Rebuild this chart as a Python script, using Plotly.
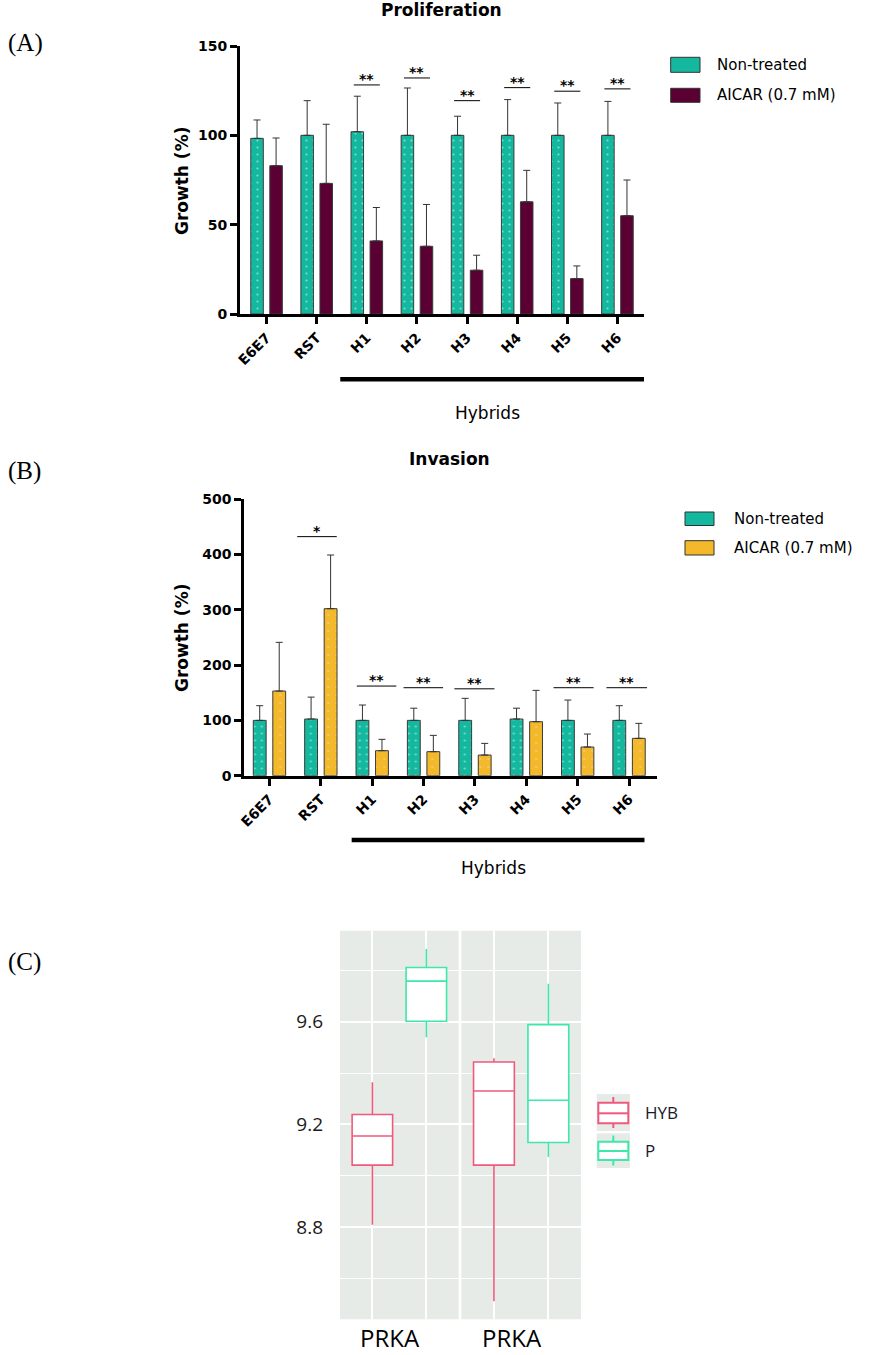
import plotly.graph_objects as go

# ---------------- data ----------------
categories = ["E6E7", "RST", "H1", "H2", "H3", "H4", "H5", "H6"]

prolif_nt = [98.3, 100, 102, 100, 100, 100, 100, 100]
prolif_nt_err = [10.3, 19.4, 19.9, 26.5, 10.7, 20.0, 18.1, 19.0]
prolif_aicar = [83.0, 73.1, 40.9, 37.9, 24.5, 62.8, 19.8, 55.0]
prolif_aicar_err = [15.5, 33.1, 18.7, 23.4, 8.4, 17.6, 7.1, 20.0]

inv_nt = [100, 102.4, 100, 100, 100, 102.4, 100, 100]
inv_nt_err = [26.5, 39.6, 27.7, 22.0, 39.8, 19.6, 36.7, 26.5]
inv_aicar = [153.0, 301.8, 45.2, 43.4, 37.3, 97.6, 51.8, 67.5]
inv_aicar_err = [88.0, 97.0, 20.5, 29.5, 21.1, 56.6, 23.5, 27.1]

prolif_sig_idx = [2, 3, 4, 5, 6, 7]
prolif_sig_y = [128.2, 132.1, 119.4, 126.7, 124.7, 126.0]
prolif_sig_txt = ["**", "**", "**", "**", "**", "**"]

inv_sig_idx = [1, 2, 3, 4, 6, 7]
inv_sig_y = [432, 162, 159, 157, 159, 159]
inv_sig_txt = ["*", "**", "**", "**", "**", "**"]

series_names = ["Non-treated", "AICAR (0.7 mM)"]

box_groups = ["HYB", "P"]
facet_labels = ["PRKA", "PRKA"]
# [lowerfence, q1, median, q3, upperfence]
facet1_hyb = [8.810, 9.042, 9.155, 9.239, 9.364]
facet1_p = [9.539, 9.601, 9.757, 9.810, 9.882]
facet2_hyb = [8.513, 9.042, 9.330, 9.443, 9.457]
facet2_p = [9.074, 9.130, 9.294, 9.588, 9.747]
c_yticks = [8.8, 9.2, 9.6]
c_yminor = [8.6, 9.0, 9.4, 9.8]

# ---------------- layout helpers ----------------
W, H = 895, 1355
def px(x):
    return x / W
def py(y):
    return 1 - y / H

teal = "#14B89F"
maroon = "#5A0032"
orange = "#F3B92A"
pink = "#EF5A7C"
mint = "#3DE8A8"
panel_bg = "#E7EBE7"
BOLD = dict(family="DejaVu Sans", color="black", weight="bold")

fig = go.Figure()

bar_w = 0.25
half_sep = 0.19

def add_bars(vals, errs, color, xa, ya, side, pattern=None):
    marker = dict(color=color, line=dict(color="#3a3a3a", width=1))
    if pattern is not None:
        marker["pattern"] = pattern
    fig.add_trace(go.Bar(
        x=categories, y=vals, width=bar_w,
        offset=side * half_sep - bar_w / 2,
        marker=marker,
        error_y=dict(type="data", array=errs, arrayminus=[0] * len(errs),
                     symmetric=False, color="#333333", thickness=1, width=3.5),
        xaxis=xa, yaxis=ya, showlegend=False))

teal_pattern = dict(shape=".", fgcolor="#7FDCCB", bgcolor=teal, size=7,
                    solidity=0.08, fillmode="replace")
orange_pattern = dict(shape=".", fgcolor="#F5C87A", bgcolor=orange, size=8,
                      solidity=0.06, fillmode="replace")

add_bars(prolif_nt, prolif_nt_err, teal, "x", "y", -1, teal_pattern)
add_bars(prolif_aicar, prolif_aicar_err, maroon, "x", "y", 1)
add_bars(inv_nt, inv_nt_err, teal, "x2", "y2", -1, teal_pattern)
add_bars(inv_aicar, inv_aicar_err, orange, "x2", "y2", 1, orange_pattern)

# ---------------- boxes (panel C) ----------------
def add_box(stats, pos, color, xa, ya):
    lo, q1, med, q3, hi = stats
    fig.add_trace(go.Box(
        x=[pos], q1=[q1], median=[med], q3=[q3], lowerfence=[lo], upperfence=[hi],
        width=0.75, whiskerwidth=0, fillcolor="white",
        line=dict(color=color, width=1.6), boxpoints=False,
        xaxis=xa, yaxis=ya, showlegend=False, hoverinfo="skip"))

add_box(facet1_hyb, 0, pink, "x3", "y3")
add_box(facet1_p, 1, mint, "x3", "y3")
add_box(facet2_hyb, 0, pink, "x4", "y4")
add_box(facet2_p, 1, mint, "x4", "y4")

# ---------------- axes ----------------
xcommon = dict(type="category", showline=True, linecolor="black", linewidth=3,
               ticks="outside", ticklen=7, tickwidth=3, tickcolor="black",
               tickangle=-45, tickfont=dict(size=14, **BOLD), automargin=False,
               showgrid=False, zeroline=False, fixedrange=True)
ycommon = dict(showline=True, linecolor="black", linewidth=3, automargin=False,
               ticks="outside", ticklen=7, tickwidth=3, tickcolor="black",
               tickfont=dict(size=14, **BOLD), showgrid=False, zeroline=False)

ccommon_x = dict(range=[-0.6, 1.6], tickvals=[0, 1], showticklabels=False,
                 showgrid=True, gridcolor="white", gridwidth=1.5, zeroline=False,
                 showline=False, ticks="", automargin=False)
ccommon_y = dict(range=[8.443, 9.953], tickvals=c_yticks,
                 ticktext=[f"{v:.1f}" for v in c_yticks],
                 showgrid=True, gridcolor="white", gridwidth=1.5, zeroline=False,
                 showline=False, ticks="", automargin=False,
                 minor=dict(tickvals=c_yminor, showgrid=True, gridcolor="white",
                            gridwidth=1),
                 domain=[py(1319.3), py(930.7)])

fig.update_layout(
    width=W, height=H, margin=dict(l=0, r=0, t=0, b=0, pad=0, autoexpand=False),
    paper_bgcolor="white", plot_bgcolor="rgba(0,0,0,0)",
    barmode="overlay", boxmode="overlay", showlegend=False,
    xaxis=dict(domain=[px(240), px(644)], range=[-0.53, 7.53], anchor="y", **xcommon),
    yaxis=dict(domain=[py(314), py(46)], range=[0, 150], dtick=50, anchor="x", **ycommon),
    xaxis2=dict(domain=[px(244.3), px(657.3)], range=[-0.49, 7.55], anchor="y2", **xcommon),
    yaxis2=dict(domain=[py(775.7), py(499)], range=[0, 500], dtick=100, anchor="x2", **ycommon),
    xaxis3=dict(domain=[px(340), px(458.7)], anchor="y3", **ccommon_x),
    xaxis4=dict(domain=[px(461.3), px(581)], anchor="y4", **ccommon_x),
    yaxis3=dict(anchor="x3", tickfont=dict(family="Open Sans", size=19, color="#1a1a1a"),
                ticklabelstandoff=16, **ccommon_y),
    yaxis4=dict(anchor="x4", matches="y3", showticklabels=False, **ccommon_y),
)

shapes = []
ann = []

def text_at(x, y, text, font, xanchor="center", yanchor="middle", **kw):
    ann.append(dict(x=px(x), y=py(y), xref="paper", yref="paper", text=text,
                    xanchor=xanchor, yanchor=yanchor, showarrow=False, font=font, **kw))

# panel C backgrounds
for xa in ["x3", "x4"]:
    shapes.append(dict(type="rect", xref=f"{xa} domain", yref="y3 domain",
                       x0=0, x1=1, y0=0, y1=1, fillcolor=panel_bg,
                       line=dict(width=0), layer="below"))

# significance lines
for i, yv, t in zip(prolif_sig_idx, prolif_sig_y, prolif_sig_txt):
    shapes.append(dict(type="line", xref="x", yref="y", x0=i - 0.26, x1=i + 0.26,
                       y0=yv, y1=yv, line=dict(color="black", width=1)))
    ann.append(dict(x=i, y=yv, xref="x", yref="y", text=t, showarrow=False,
                    xanchor="center", yanchor="middle", yshift=6,
                    font=dict(size=14, **BOLD)))

inv_sig_off = [(-0.46, 0.31), (-0.30, 0.47), (-0.39, 0.38), (-0.40, 0.38),
               (-0.47, 0.31), (-0.44, 0.35)]
for (i, yv, t), (a, b) in zip(zip(inv_sig_idx, inv_sig_y, inv_sig_txt), inv_sig_off):
    shapes.append(dict(type="line", xref="x2", yref="y2", x0=i + a, x1=i + b,
                       y0=yv, y1=yv, line=dict(color="black", width=1)))
    ann.append(dict(x=i + (a + b) / 2, y=yv, xref="x2", yref="y2", text=t,
                    showarrow=False, xanchor="center", yanchor="middle", yshift=6,
                    font=dict(size=14, **BOLD)))

# hybrids bars
shapes.append(dict(type="line", xref="x", yref="paper", x0=1.47, x1=7.58,
                   y0=py(379.3), y1=py(379.3), line=dict(color="black", width=4.5)))
shapes.append(dict(type="line", xref="x2", yref="paper", x0=1.60, x1=7.30,
                   y0=py(840), y1=py(840), line=dict(color="black", width=4.5)))
hyb_font = dict(family="DejaVu Sans", size=17, color="black")
text_at(487, 413, "Hybrids", hyb_font)
text_at(493, 868, "Hybrids", hyb_font)

# titles
text_at(441, 10, "Proliferation", dict(size=17, **BOLD))
text_at(449, 459, "Invasion", dict(size=17, **BOLD))
text_at(182, 181, "Growth (%)", dict(size=17, **BOLD), textangle=-90)
text_at(182, 638, "Growth (%)", dict(size=17, **BOLD), textangle=-90)

# panel labels
for lab, yy in [("(A)", 43), ("(B)", 471), ("(C)", 962)]:
    text_at(6, yy, lab, dict(family="Liberation Serif", size=25, color="black"),
            xanchor="left")

# legends for A and B
def bar_legend(x0, x1, rows, colors, text_x):
    for (y0, y1), c, name in zip(rows, colors, series_names):
        shapes.append(dict(type="rect", xref="paper", yref="paper",
                           x0=px(x0), x1=px(x1), y0=py(y1), y1=py(y0),
                           fillcolor=c, line=dict(color="#333333", width=1)))
        text_at(text_x, (y0 + y1) / 2, name,
                dict(family="DejaVu Sans", size=15, color="black"), xanchor="left")

bar_legend(670.7, 700, [(57.3, 72.3), (88.3, 102.3)], [teal, maroon], 715)
bar_legend(685, 714, [(512, 525.5), (540.7, 555)], [teal, orange], 731.7)

# legend for C
key_rows = [(1094, 1131, 1097, 1102.7, 1113.3, 1123.3, 1128),
            (1133.3, 1168, 1135.5, 1141.7, 1151, 1160, 1165.5)]
for (ky0, ky1, w0, b0, bm, b1, w1), col, name in zip(key_rows, [pink, mint], box_groups):
    shapes.append(dict(type="rect", xref="paper", yref="paper", x0=px(596.7), x1=px(630),
                       y0=py(ky1), y1=py(ky0), fillcolor=panel_bg, line=dict(width=0)))
    shapes.append(dict(type="rect", xref="paper", yref="paper", x0=px(598.3), x1=px(628.3),
                       y0=py(b1), y1=py(b0), fillcolor="white",
                       line=dict(color=col, width=2)))
    shapes.append(dict(type="line", xref="paper", yref="paper", x0=px(598.3), x1=px(628.3),
                       y0=py(bm), y1=py(bm), line=dict(color=col, width=2)))
    shapes.append(dict(type="line", xref="paper", yref="paper", x0=px(613.3), x1=px(613.3),
                       y0=py(w0), y1=py(b0), line=dict(color=col, width=2)))
    shapes.append(dict(type="line", xref="paper", yref="paper", x0=px(613.3), x1=px(613.3),
                       y0=py(b1), y1=py(w1), line=dict(color=col, width=2)))
    text_at(642.7, (ky0 + ky1) / 2, name,
            dict(family="Open Sans", size=17, color="#1a1a2a"), xanchor="left")

# facet labels under panel C
for xa, lab in zip(["x3", "x4"], facet_labels):
    ann.append(dict(x=0.42, y=py(1337), xref=f"{xa} domain", yref="paper", text=lab,
                    xanchor="center", yanchor="middle", showarrow=False,
                    font=dict(family="Open Sans", size=24, color="black")))

fig.update_layout(shapes=shapes, annotations=ann)
fig.write_html("out.html", config={"displayModeBar": False},
               post_script="document.body.style.margin='0';document.body.style.padding='0';")
